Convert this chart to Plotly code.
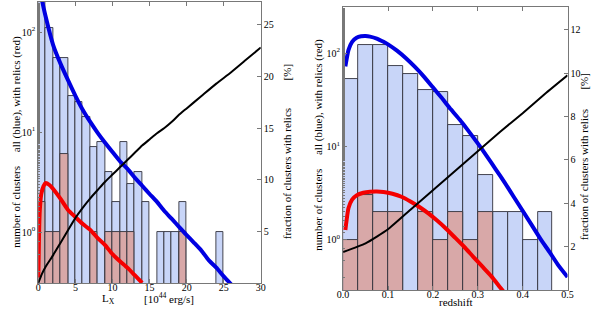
import plotly.graph_objects as go

# ---------------- data: left panel (X-ray luminosity) ----------------
lx_bin_left = list(range(0, 25))
lx_all = [260, 109, 55, 55, 23, 20, 14, 7, 8, 4, 2, 8, 3, 4, 2, 0, 1, 1, 1, 2, 0, 0, 0, 0, 1]
lx_relic = [2, 1, 1, 6, 0, 0, 0, 1, 0, 1, 1, 1, 1, 0, 0, 0, 0, 0, 0, 1, 0, 0, 0, 0, 0]

lx_fit_all_x = [0.3, 0.5, 1, 2, 3, 4, 5, 6, 7, 8, 9, 10, 11, 12, 13, 14, 15, 16, 17, 18,
                19, 20, 21, 22, 23, 24, 25, 26]
lx_fit_all_y = [280, 209, 141, 74, 48, 33, 23, 16.6, 12.6, 9.8, 7.8, 6.3, 5.1, 4.3, 3.5, 2.9,
                2.4, 2.0, 1.62, 1.35, 1.12, 0.93, 0.78, 0.65, 0.52, 0.44, 0.36, 0.30]

lx_fit_rel_x = [0.0, 0.1, 0.2, 0.4, 0.7, 1.0, 1.5, 2, 3, 4, 5, 6, 7, 8, 9, 10, 11, 12, 13, 14]
lx_fit_rel_y = [0.35, 1.0, 1.66, 2.40, 2.88, 3.09, 2.95, 2.69, 2.14, 1.66, 1.41, 1.20, 1.05,
                0.87, 0.74, 0.60, 0.51, 0.44, 0.37, 0.31]

lx_frac_x = [0, 0.5, 1, 2, 3, 4, 5, 6, 7, 8, 9, 10, 11, 12, 13, 14, 15, 16, 17, 18, 19, 20,
             22, 24, 26, 28, 30]
lx_frac_y = [0, 0.9, 1.6, 2.7, 3.9, 5.1, 6.3, 7.3, 8.2, 9.0, 9.8, 10.5, 11.2, 11.9, 12.6,
             13.3, 13.9, 14.5, 15.0, 15.6, 16.3, 16.9, 18.1, 19.3, 20.4, 21.6, 22.8]

# ---------------- data: right panel (redshift) ----------------
z_bin_left = [i / 30 for i in range(14)]
z_all = [53, 122, 122, 73, 59, 40, 38, 17, 13, 5, 2, 2, 1, 2]
z_relic = [1, 3, 2, 2, 0, 2, 1, 2, 1, 2, 0, 0, 0, 0]

z_fit_all_x = [0.005, 0.012, 0.02, 0.03, 0.04, 0.05, 0.06, 0.075, 0.09, 0.1, 0.12, 0.14, 0.16,
               0.18, 0.2, 0.22, 0.24, 0.26, 0.28, 0.3, 0.32, 0.34, 0.36, 0.38, 0.4, 0.42,
               0.44, 0.46, 0.48, 0.5]
z_fit_all_y = [72, 108, 132, 146, 151, 152, 150, 143, 132, 124, 106, 88, 71,
               56, 43, 33, 25, 19.3, 14.5, 10.8, 7.9, 5.7, 4.1, 2.9, 2.05, 1.45,
               1.02, 0.74, 0.53, 0.40]

z_fit_rel_x = [0.005, 0.012, 0.02, 0.03, 0.045, 0.06, 0.075, 0.09, 0.11, 0.13, 0.15, 0.17,
               0.19, 0.21, 0.23, 0.25, 0.27, 0.29, 0.31, 0.33, 0.35, 0.36]
z_fit_rel_y = [1.28, 2.2, 2.7, 3.0, 3.2, 3.28, 3.3, 3.26, 3.12, 2.9, 2.58, 2.25,
               1.92, 1.6, 1.31, 1.05, 0.84, 0.66, 0.52, 0.41, 0.31, 0.27]

z_frac_x = [0.0, 0.05, 0.1, 0.15, 0.2, 0.25, 0.3, 0.35, 0.4, 0.45, 0.5]
z_frac_y = [1.75, 2.15, 2.8, 3.7, 4.6, 5.5, 6.4, 7.3, 8.15, 9.05, 9.9]

# ---------------- styles ----------------
BLUE_FILL = "rgb(200,213,248)"
RED_FILL = "rgb(216,168,168)"
EDGE = "rgb(50,50,60)"
FRAME = "rgb(120,120,120)"
FONT = "Liberation Serif"

def nz(v):
    return [x if x > 0 else None for x in v]

fig = go.Figure()

# left panel
fig.add_trace(go.Bar(x=lx_bin_left, y=nz(lx_all), width=1, offset=0,
                     marker=dict(color=BLUE_FILL, line=dict(color=EDGE, width=0.9)),
                     xaxis="x", yaxis="y"))
fig.add_trace(go.Bar(x=lx_bin_left, y=nz(lx_relic), width=1, offset=0,
                     marker=dict(color=RED_FILL, line=dict(color=EDGE, width=0.9)),
                     xaxis="x", yaxis="y"))
fig.add_trace(go.Scatter(x=lx_fit_all_x, y=lx_fit_all_y, mode="lines",
                         line=dict(color="rgb(0,0,225)", width=4, shape="spline", smoothing=0.5),
                         xaxis="x", yaxis="y"))
fig.add_trace(go.Scatter(x=lx_fit_rel_x, y=lx_fit_rel_y, mode="lines",
                         line=dict(color="rgb(245,0,0)", width=4, shape="spline", smoothing=0.5),
                         xaxis="x", yaxis="y"))
fig.add_trace(go.Scatter(x=lx_frac_x, y=lx_frac_y, mode="lines",
                         line=dict(color="black", width=2, shape="spline", smoothing=0.5),
                         xaxis="x", yaxis="y2"))

# right panel
fig.add_trace(go.Bar(x=z_bin_left, y=nz(z_all), width=1 / 30, offset=0,
                     marker=dict(color=BLUE_FILL, line=dict(color=EDGE, width=0.9)),
                     xaxis="x2", yaxis="y3"))
fig.add_trace(go.Bar(x=z_bin_left, y=nz(z_relic), width=1 / 30, offset=0,
                     marker=dict(color=RED_FILL, line=dict(color=EDGE, width=0.9)),
                     xaxis="x2", yaxis="y3"))
fig.add_trace(go.Scatter(x=z_fit_all_x, y=z_fit_all_y, mode="lines",
                         line=dict(color="rgb(0,0,225)", width=4, shape="spline", smoothing=0.5),
                         xaxis="x2", yaxis="y3"))
fig.add_trace(go.Scatter(x=z_fit_rel_x, y=z_fit_rel_y, mode="lines",
                         line=dict(color="rgb(245,0,0)", width=4, shape="spline", smoothing=0.5),
                         xaxis="x2", yaxis="y3"))
fig.add_trace(go.Scatter(x=z_frac_x, y=z_frac_y, mode="lines",
                         line=dict(color="black", width=2, shape="spline", smoothing=0.5),
                         xaxis="x2", yaxis="y4"))

tickfont = dict(family=FONT, size=10, color="black")
titlefont = dict(family=FONT, size=11, color="black")
common = dict(showline=True, linecolor=FRAME, linewidth=1, ticks="inside",
              tickcolor=FRAME, ticklen=4, tickfont=tickfont, showgrid=False,
              zeroline=False)

fig.update_layout(
    width=600, height=313, margin=dict(l=0, r=0, t=0, b=0),
    paper_bgcolor="white", plot_bgcolor="white",
    showlegend=False, barmode="overlay", bargap=0, hovermode=False,
    xaxis=dict(domain=[33 / 600, 260 / 600], range=[0, 30], tickvals=[0, 5, 10, 15, 20, 25, 30],
               mirror="ticks", anchor="y", ticklabelstandoff=-5, **common),
    yaxis=dict(domain=[1 - 283 / 313, 1 - 2 / 313], type="log", range=[-0.51, 2.30],
               tickvals=[1, 10, 100], ticktext=["10<sup>0</sup>", "10<sup>1</sup>", "10<sup>2</sup>"],
               minor=dict(ticks="inside", ticklen=2, tickcolor=FRAME),
               anchor="x", **common),
    yaxis2=dict(overlaying="y", side="right", anchor="x", range=[0, 27.2],
                tickvals=[5, 10, 15, 20, 25], **common),
    xaxis2=dict(domain=[344 / 600, 573 / 600], range=[0, 0.5], tickvals=[0, 0.1, 0.2, 0.3, 0.4, 0.5],
                ticktext=["0.0", "0.1", "0.2", "0.3", "0.4", "0.5"], mirror="ticks", anchor="y3",
                ticklabelstandoff=-5, **common),
    yaxis3=dict(domain=[1 - 290 / 313, 1 - 7 / 313], type="log", range=[-0.536, 2.493],
                tickvals=[1, 10, 100], ticktext=["10<sup>0</sup>", "10<sup>1</sup>", "10<sup>2</sup>"],
                minor=dict(ticks="inside", ticklen=2, tickcolor=FRAME),
                anchor="x2", **common),
    yaxis4=dict(overlaying="y3", side="right", anchor="x2", range=[0, 13.05],
                tickvals=[2, 4, 6, 8, 10, 12], **common),
)

def nb(n):
    return "\u00a0" * n

def px_ann(text, x, y, angle=0):
    fig.add_annotation(text=text, x=x / 600, y=1 - y / 313, xref="paper", yref="paper",
                       showarrow=False, font=titlefont, xanchor="center", yanchor="middle",
                       textangle=angle)

# axis titles
px_ann("L<sub>X</sub>", 105, 299)
px_ann("[10<sup>44</sup> erg/s]", 166, 298)
px_ann("redshift", 459, 302)
px_ann("number of clusters" + nb(5) + "all (blue), with relics (red)", 10, 142, -90)
px_ann("fraction of clusters with relics" + nb(10) + "[%]", 287, 152, -90)
px_ann("number of clusters" + nb(5) + "all (blue), with relics (red)", 318, 145, -90)
px_ann("fraction of clusters with relics" + nb(7) + "[%]", 590, 157, -90)

# remove the browser's default page margin so the 600x313 figure fills the window
fig.write_html("out.html", config={"displayModeBar": False},
               post_script="document.body.style.margin='0';document.body.style.overflow='hidden';")
